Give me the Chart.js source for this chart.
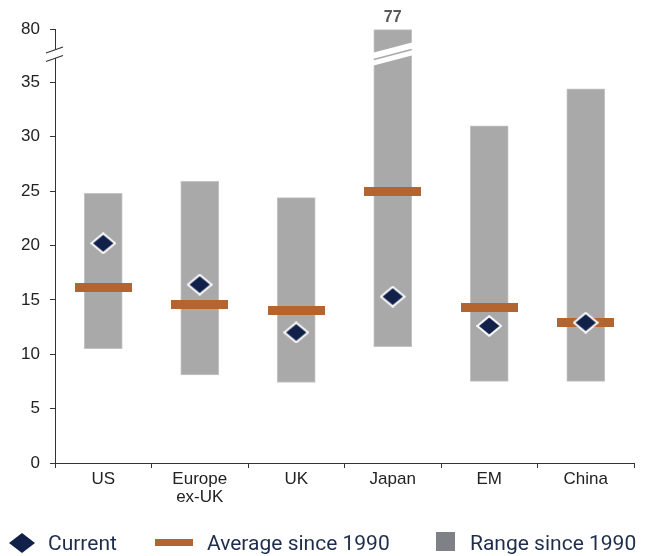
<!DOCTYPE html>
<html>
<head>
<meta charset="utf-8">
<script src="https://cdn.jsdelivr.net/npm/chart.js@4.4.1/dist/chart.umd.min.js"></script>
<style>
  html, body { margin: 0; padding: 0; background: #fff; }
  #wrap { position: relative; width: 645px; height: 556px; overflow: hidden; }
  #c { position: absolute; left: 0; top: 0; }
  .lg { position: absolute; font-family: Roboto, "Liberation Sans", sans-serif; font-size: 21px;
        color: #1f2d4d; line-height: 1; white-space: nowrap; }
  .sw { position: absolute; }
</style>
</head>
<body>
<div id="wrap">
  <canvas id="c" width="645" height="556"></canvas>
  <svg class="sw" style="left:9px;top:533px" width="26" height="20"><polygon points="13,0 26,10 13,20 0,10" fill="#12214a"/></svg>
  <div class="lg" style="left:48px;top:533px">Current</div>
  <div class="sw" style="left:155px;top:539px;width:38px;height:7px;background:#b4652f"></div>
  <div class="lg" style="left:207px;top:533px">Average since 1990</div>
  <div class="sw" style="left:436px;top:532px;width:19px;height:19px;background:#7e8186"></div>
  <div class="lg" style="left:470px;top:533px">Range since 1990</div>
</div>
<script>
// Valuation ranges by market
const categories = ['US', ['Europe', 'ex-UK'], 'UK', 'Japan', 'EM', 'China'];
const rangeLow  = [10.5, 8.1, 7.4, 10.7, 7.5, 7.5];
const rangeHigh = [24.8, 25.9, 24.4, 77, 31.0, 34.4];
const average   = [16.1, 14.6, 14.0, 25.0, 14.3, 12.9];
const current   = [20.2, 16.4, 12.0, 15.3, 12.6, 12.9];
const yTicks    = [0, 5, 10, 15, 20, 25, 30, 35, 80];

// Broken value axis: everything up to 35 is linear, values above the break
// are squeezed into a short segment topped by the 80 tick.
const BREAK_AT = 35;
const AXIS_TOP = 39.9;
const AXIS_BREAK = 37.6;
function toAxis(v) {
  return v <= BREAK_AT ? v : AXIS_TOP - (80 - v) * 0.02;
}

// Marker images
function diamondImage() {
  const c = document.createElement('canvas');
  c.width = 26; c.height = 22;
  const g = c.getContext('2d');
  g.beginPath();
  g.moveTo(13, 1.2); g.lineTo(24.8, 11); g.lineTo(13, 20.8); g.lineTo(1.2, 11); g.closePath();
  g.fillStyle = '#12214a'; g.fill();
  g.lineWidth = 2; g.strokeStyle = '#ffffff'; g.stroke();
  return c;
}
function averageImage() {
  const c = document.createElement('canvas');
  c.width = 57; c.height = 9;
  const g = c.getContext('2d');
  g.fillStyle = '#b4652f';
  g.fillRect(0, 0, 57, 9);
  return c;
}

const breakMarks = {
  id: 'breakMarks',
  afterDatasetsDraw(chart) {
    const ctx = chart.ctx, y = chart.scales.y;
    const meta = chart.getDatasetMeta(0);
    rangeHigh.forEach((v, i) => {
      if (v <= BREAK_AT) return;
      const bar = meta.data[i];
      const l = bar.x - bar.width / 2, r = bar.x + bar.width / 2;
      const yc = y.getPixelForValue(AXIS_BREAK);
      const yAt = (x, off) => yc + off + (x - bar.x) * -0.26;
      ctx.save();
      ctx.fillStyle = '#ffffff';
      ctx.beginPath();
      ctx.moveTo(l - 1, yAt(l - 1, -6.5));
      ctx.lineTo(r + 1, yAt(r + 1, -6.5));
      ctx.lineTo(r + 1, yAt(r + 1, 6.5));
      ctx.lineTo(l - 1, yAt(l - 1, 6.5));
      ctx.closePath();
      ctx.fill();
      ctx.strokeStyle = '#a9a9a9';
      ctx.lineWidth = 1.6;
      ctx.beginPath();
      ctx.moveTo(l, yAt(l, 0.5));
      ctx.lineTo(r, yAt(r, 0.5));
      ctx.stroke();
      // value label above the clipped bar
      ctx.fillStyle = '#595959';
      ctx.font = 'bold 16px "Liberation Sans", Arial, sans-serif';
      ctx.textAlign = 'center';
      ctx.textBaseline = 'middle';
      ctx.fillText(String(v), bar.x, bar.y - 12.5);
      ctx.restore();
    });
  },
  afterDraw(chart) {
    const ctx = chart.ctx, y = chart.scales.y;
    const x0 = y.right;
    const yc = y.getPixelForValue(AXIS_BREAK);
    const s = -0.353;
    const yAt = (x, off) => yc + off + (x - x0) * s;
    ctx.save();
    ctx.fillStyle = '#ffffff';
    ctx.beginPath();
    ctx.moveTo(x0 - 4, yAt(x0 - 4, -4.25));
    ctx.lineTo(x0 + 4, yAt(x0 + 4, -4.25));
    ctx.lineTo(x0 + 4, yAt(x0 + 4, 4.25));
    ctx.lineTo(x0 - 4, yAt(x0 - 4, 4.25));
    ctx.closePath();
    ctx.fill();
    ctx.strokeStyle = '#333333';
    ctx.lineWidth = 1.2;
    [-4.25, 4.25].forEach(off => {
      ctx.beginPath();
      ctx.moveTo(x0 - 9, yAt(x0 - 9, off));
      ctx.lineTo(x0 + 8, yAt(x0 + 8, off));
      ctx.stroke();
    });
    ctx.restore();
  }
};

new Chart(document.getElementById('c'), {
  data: {
    labels: categories,
    datasets: [
      {
        type: 'bar',
        label: 'Range since 1990',
        data: rangeLow.map((lo, i) => [toAxis(lo), toAxis(rangeHigh[i])]),
        backgroundColor: '#a9a9a9',
        borderColor: '#c4c4c4',
        borderWidth: 1,
        borderSkipped: false,
        barThickness: 38,
        order: 3
      },
      {
        type: 'line',
        label: 'Average since 1990',
        data: average.map(toAxis),
        showLine: false,
        pointStyle: averageImage(),
        pointRadius: 10,
        order: 2
      },
      {
        type: 'line',
        label: 'Current',
        data: current.map(toAxis),
        showLine: false,
        pointStyle: diamondImage(),
        pointRadius: 10,
        order: 1
      }
    ]
  },
  options: {
    responsive: false,
    animation: false,
    layout: { padding: { top: 29, right: 11, left: 0, bottom: 0 } },
    plugins: { legend: { display: false }, tooltip: { enabled: false } },
    scales: {
      x: {
        offset: true,
        grid: { offset: true, drawOnChartArea: false, tickLength: 5, color: '#333333' },
        border: { color: '#333333', width: 1 },
        ticks: {
          font: { family: '"Liberation Sans", Arial, sans-serif', size: 17, lineHeight: 1.08 },
          color: '#222222', padding: 2, maxRotation: 0, autoSkip: false
        },
        afterFit: s => { s.height = 93; }
      },
      y: {
        min: 0,
        max: AXIS_TOP,
        afterBuildTicks: s => { s.ticks = yTicks.map(v => ({ value: toAxis(v) })); },
        grid: { drawOnChartArea: false, tickLength: 5, color: '#333333' },
        border: { color: '#333333', width: 1 },
        ticks: {
          font: { family: '"Liberation Sans", Arial, sans-serif', size: 17 },
          color: '#222222', padding: 10,
          callback: (v, i) => String(yTicks[i])
        },
        afterFit: s => { s.width = 55; }
      }
    }
  },
  plugins: [breakMarks]
});
</script>
</body>
</html>
